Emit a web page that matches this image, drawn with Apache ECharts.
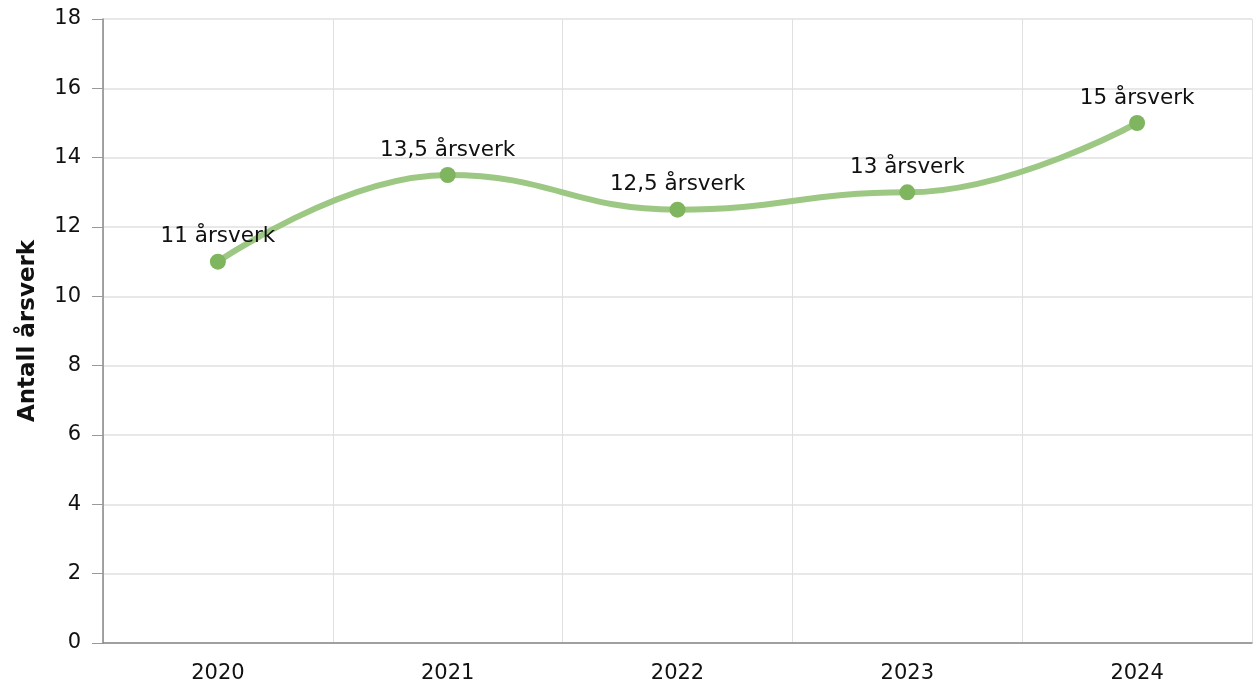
<!DOCTYPE html>
<html>
<head>
<meta charset="utf-8">
<script src="https://cdn.jsdelivr.net/npm/echarts@6/dist/echarts.min.js"></script>
<style>
  html, body { margin: 0; padding: 0; background: #fff; }
  #main { width: 1253px; height: 691px; }
</style>
</head>
<body>
<div id="main"></div>
<script>
var years = ['2020', '2021', '2022', '2023', '2024'];
var aarsverk = [11, 13.5, 12.5, 13, 15];
var labels = ['11 årsverk', '13,5 årsverk', '12,5 årsverk', '13 årsverk', '15 årsverk'];

var chart = echarts.init(document.getElementById('main'));
var font = 'DejaVu Sans, Verdana, sans-serif';

var option = {
    animation: false,
    grid: { left: 103, right: 1, top: 19, bottom: 48 },
    xAxis: [{
        type: 'category',
        data: years,
        boundaryGap: true,
        axisLine: { lineStyle: { color: '#888', width: 1.5 } },
        axisTick: { alignWithLabel: true, length: 9, lineStyle: { color: '#999' } },
        axisLabel: { color: '#111', fontSize: 21, fontFamily: font, margin: 20 },
        splitLine: { show: false }
    }, {
        // only used for the vertical grid lines at category boundaries
        type: 'category',
        data: years,
        boundaryGap: true,
        position: 'bottom',
        axisLine: { show: false },
        axisTick: { show: false },
        axisLabel: { show: false },
        splitLine: { show: true, lineStyle: { color: '#e0e0e0', width: 1 } }
    }],
    yAxis: {
        type: 'value',
        min: 0,
        max: 18,
        interval: 2,
        name: 'Antall årsverk',
        nameLocation: 'middle',
        nameGap: 63,
        nameTextStyle: { fontSize: 23, fontWeight: 'bold', color: '#111', fontFamily: font },
        axisLine: { show: true, lineStyle: { color: '#888', width: 1.5 } },
        axisTick: { show: true, length: 11, lineStyle: { color: '#999' } },
        axisLabel: { color: '#111', fontSize: 21, fontFamily: font, margin: 22 },
        splitLine: { lineStyle: { color: '#e0e0e0', width: 1.5 } }
    },
    series: [{
        type: 'line',
        data: aarsverk,
        smooth: 0.45,
        smoothMonotone: 'x',
        symbol: 'circle',
        symbolSize: 16,
        lineStyle: { color: '#9cc883', width: 6 },
        itemStyle: { color: '#80b55f' },
        label: {
            show: true,
            position: 'top',
            distance: 6,
            color: '#111',
            fontSize: 21.5,
            fontFamily: font,
            formatter: function (p) { return labels[p.dataIndex]; }
        },
        z: 5
    }]
};
chart.setOption(option);
</script>
</body>
</html>
